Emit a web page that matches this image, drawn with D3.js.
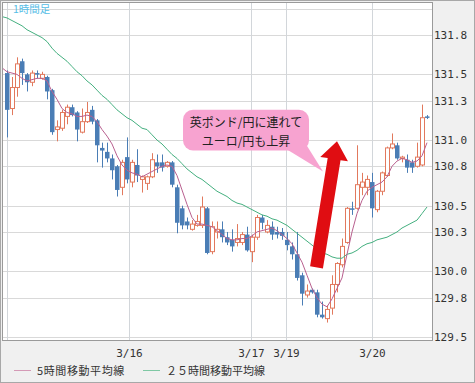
<!DOCTYPE html>
<html><head><meta charset="utf-8">
<script src="https://cdn.jsdelivr.net/npm/d3@7"></script>
<style>body{margin:0;background:#fff;} svg{display:block;}</style>
</head><body>
<svg id="c" width="475" height="383"></svg>
<script>
// ---- data (EUR/JPY hourly candles) ----
const opens = [
131.51,131.24,131.40,131.60,131.50,131.44,131.51,131.47,131.48,131.38,
131.08,131.09,131.18,131.25,131.21,131.06,131.14,131.23,131.15,130.94,
130.91,130.86,130.80,130.64,130.87,130.68,130.81,130.70,130.67,130.72,
130.83,130.83,130.80,130.83,130.64,130.48,130.38,130.32,130.35,130.35,
130.48,130.15,130.30,130.32,130.26,130.24,130.22,130.22,130.28,130.15,
130.26,130.41,130.30,130.34,130.30,130.30,130.24,130.19,130.13,129.97,
129.82,129.86,129.84,129.67,129.64,129.72,129.90,130.05,130.22,130.48,
130.48,130.64,130.64,130.68,130.47,130.61,130.73,130.94,130.96,130.86,
130.85,130.83,130.80,130.81,131.18];
const closes = [
131.23,131.40,131.58,131.51,131.44,131.51,131.50,131.50,131.37,131.06,
131.10,131.21,131.25,131.19,131.08,131.14,131.21,131.14,130.96,130.92,
130.86,130.77,130.62,130.83,130.70,130.83,130.73,130.72,130.72,130.85,
130.80,130.79,130.83,130.66,130.37,130.35,130.35,130.36,130.38,130.49,
130.14,130.34,130.32,130.26,130.22,130.19,130.25,130.28,130.16,130.26,
130.41,130.37,130.35,130.28,130.28,130.27,130.20,130.13,129.95,129.83,
129.85,129.84,129.67,129.65,129.71,129.90,130.06,130.19,130.48,130.47,
130.66,130.68,130.70,130.48,130.61,130.75,130.94,130.97,130.86,130.87,
130.79,130.79,130.87,131.17,131.17];
const highs = [
131.53,131.48,131.63,131.62,131.51,131.53,131.53,131.52,131.49,131.39,
131.15,131.23,131.27,131.27,131.22,131.24,131.29,131.26,131.16,130.98,
130.98,130.89,130.81,130.85,131.02,130.85,130.93,130.73,130.73,130.90,
130.89,130.89,130.84,130.84,130.66,130.50,130.41,130.39,130.43,130.57,
130.49,130.38,130.38,130.38,130.30,130.32,130.36,130.30,130.34,130.28,
130.43,130.43,130.39,130.38,130.34,130.33,130.30,130.22,130.30,129.99,
129.90,129.87,129.86,129.77,129.74,129.97,130.07,130.25,130.49,130.53,
130.96,130.75,130.73,130.75,130.62,130.76,130.95,131.05,130.98,130.88,
130.89,130.85,130.98,131.27,131.19];
const lows = [
131.02,131.19,131.33,131.42,131.37,131.41,131.47,131.46,131.31,131.04,
130.99,131.07,131.12,131.18,130.99,131.05,131.13,131.12,130.83,130.79,
130.83,130.70,130.57,130.58,130.67,130.64,130.68,130.60,130.62,130.71,
130.75,130.76,130.79,130.64,130.29,130.32,130.32,130.31,130.34,130.33,
130.13,130.13,130.25,130.22,130.20,130.15,130.19,130.20,130.15,130.07,
130.24,130.32,130.29,130.24,130.25,130.24,130.16,130.09,129.93,129.74,
129.80,129.83,129.65,129.64,129.61,129.67,129.84,130.03,130.21,130.43,
130.47,130.58,130.58,130.41,130.45,130.58,130.72,130.93,130.85,130.83,
130.75,130.75,130.79,130.80,131.16];
// moving averages, first value belongs to the candle just before the first visible one
const ma5 = [
131.55,131.52,131.51,131.50,131.47,131.45,131.46,131.47,131.47,131.45,
131.37,131.31,131.24,131.21,131.20,131.18,131.18,131.19,131.18,131.14,
131.08,131.03,130.97,130.88,130.81,130.77,130.75,130.74,130.72,130.74,
130.76,130.78,130.80,130.81,130.80,130.73,130.62,130.51,130.41,130.36,
130.36,130.35,130.34,130.31,130.28,130.25,130.24,130.24,130.25,130.25,
130.27,130.30,130.31,130.32,130.33,130.31,130.28,130.25,130.21,130.14,
130.07,129.97,129.87,129.80,129.75,129.73,129.79,129.87,129.95,130.13,
130.30,130.44,130.54,130.61,130.64,130.66,130.68,130.72,130.80,130.84,
130.86,130.85,130.83,130.84,130.88,130.98];
const ma25 = [
131.94,131.93,131.91,131.89,131.87,131.84,131.82,131.80,131.78,131.75,
131.70,131.66,131.63,131.60,131.56,131.52,131.49,131.45,131.42,131.38,
131.34,131.31,131.27,131.23,131.20,131.17,131.15,131.12,131.09,131.08,
131.04,131.00,130.97,130.93,130.89,130.86,130.82,130.78,130.75,130.72,
130.70,130.67,130.64,130.61,130.59,130.57,130.54,130.52,130.51,130.49,
130.47,130.45,130.43,130.42,130.40,130.39,130.37,130.35,130.32,130.29,
130.26,130.23,130.20,130.17,130.14,130.13,130.11,130.10,130.10,130.13,
130.14,130.16,130.19,130.21,130.22,130.24,130.25,130.26,130.28,130.30,
130.33,130.35,130.37,130.39,130.44,130.49];
const yGridValues = [132.0,131.8,131.5,131.3,131.0,130.8,130.5,130.3,130.0,129.8,129.5];
const yLabelValues = [131.8,131.5,131.3,131.0,130.8,130.5,130.3,130.0,129.8,129.5];
const dateTickIdx = [0, 24.4, 48.8, 55.8, 73];
const dateTickLabels = ['', '3/16', '3/17', '3/19', '3/20'];
const legendLabels = ['5時間移動平均線', '２５時間移動平均線'];
const chartTitle = '1時間足';
const noteLines = ['英ポンド/円に連れて', 'ユーロ/円も上昇'];
// annotation anchors in data space (candle index, price)
const noteBox = {i0: 35.2, i1: 60.4, v0: 131.23, v1: 130.92};
const noteTail = {i: 63.2, v: 130.76};
const arrowFrom = {i: 61.9, v: 130.03};
const arrowTo = {i: 66.0, v: 130.99};

// ---- drawing ----
const W = 475, H = 383;
const plot = {l: 2, t: 2, r: 432, b: 340};
const UP = '#e2795d', DOWN = '#4a7db5';
const x = d3.scaleLinear().domain([-1, 84]).range([2, 427]);
const y = d3.scaleLinear().domain([129.5, 131.8]).range([337, 35]);
const svg = d3.select('#c');
const mono = '"DejaVu Sans Mono", "Liberation Mono", monospace';
const jp = '"Noto Sans CJK JP", "Noto Sans", sans-serif';

svg.append('rect').attr('x', 0.5).attr('y', 0.5).attr('width', W - 1).attr('height', H - 1)
  .attr('fill', '#f0f0f0').attr('stroke', '#a8a8a8');
svg.append('rect').attr('x', plot.l).attr('y', plot.t).attr('width', plot.r - plot.l)
  .attr('height', plot.b - plot.t).attr('fill', '#fff');

svg.append('defs').append('clipPath').attr('id', 'clip').append('rect')
  .attr('x', plot.l).attr('y', plot.t).attr('width', plot.r - plot.l).attr('height', plot.b - plot.t);

// grid
svg.append('g').selectAll('line').data(yGridValues).join('line')
  .attr('x1', plot.l).attr('x2', plot.r)
  .attr('y1', d => Math.round(y(d)) + 0.5).attr('y2', d => Math.round(y(d)) + 0.5)
  .attr('stroke', '#d9d9d9');
svg.append('g').selectAll('line').data(dateTickIdx).join('line')
  .attr('x1', d => Math.round(x(d)) + 0.5).attr('x2', d => Math.round(x(d)) + 0.5)
  .attr('y1', plot.t).attr('y2', plot.b)
  .attr('stroke', '#d2d6da');

// candles
const idx = d3.range(opens.length);
const cg = svg.append('g').attr('clip-path', 'url(#clip)');
const cx = i => Math.round(x(i)) + 0.5;
cg.selectAll('line.w').data(idx).join('line').attr('class', 'w')
  .attr('x1', cx).attr('x2', cx)
  .attr('y1', i => y(highs[i])).attr('y2', i => y(lows[i]))
  .attr('stroke', i => closes[i] >= opens[i] ? UP : DOWN).attr('stroke-width', 1);
cg.selectAll('rect.b').data(idx).join('rect').attr('class', 'b')
  .each(function(i) {
    const up = closes[i] >= opens[i];
    const top = y(Math.max(opens[i], closes[i]));
    const bot = y(Math.min(opens[i], closes[i]));
    const h = Math.max(1, bot - top);
    const s = d3.select(this);
    if (up) {
      s.attr('x', cx(i) - 2).attr('y', top).attr('width', 4).attr('height', h)
        .attr('fill', '#fff').attr('stroke', UP).attr('stroke-width', 1);
    } else {
      s.attr('x', cx(i) - 2.5).attr('y', top).attr('width', 4.5).attr('height', Math.max(1.5, h))
        .attr('fill', DOWN);
    }
  });

// moving averages
const line = d3.line().x((d, i) => x(i - 1)).y(d => y(d));
cg.append('path').datum(ma25).attr('d', line).attr('fill', 'none')
  .attr('stroke', '#45b080').attr('stroke-width', 1);
cg.append('path').datum(ma5).attr('d', line).attr('fill', 'none')
  .attr('stroke', '#b9608f').attr('stroke-width', 1);

// plot border
svg.append('rect').attr('x', plot.l + 0.5).attr('y', plot.t + 0.5)
  .attr('width', plot.r - plot.l).attr('height', plot.b - plot.t)
  .attr('fill', 'none').attr('stroke', '#9a9a9a');

// axes
const ay = svg.append('g').attr('transform', `translate(${plot.r},0)`)
  .call(d3.axisRight(y).tickValues(yLabelValues).tickSize(0).tickPadding(2).tickFormat(d3.format('.1f')));
ay.select('.domain').remove();
ay.selectAll('text').attr('font-family', mono).attr('font-size', 11).attr('fill', '#333');

const ax = svg.append('g').attr('transform', `translate(0,${plot.b})`)
  .call(d3.axisBottom(x).tickValues(dateTickIdx).tickSize(0).tickPadding(9)
    .tickFormat((d, i) => dateTickLabels[i]));
ax.select('.domain').remove();
ax.selectAll('text').attr('font-family', mono).attr('font-size', 11).attr('fill', '#333');

// title
svg.append('text').attr('x', 13).attr('y', 13).text(chartTitle)
  .attr('font-family', jp).attr('font-size', 10.5).attr('fill', '#56bde6');

// annotation bubble
const bx0 = x(noteBox.i0), bx1 = x(noteBox.i1), by0 = y(noteBox.v0), by1 = y(noteBox.v1);
const ann = svg.append('g');
ann.append('path')
  .attr('d', `M${bx1 - 22},${by1 - 1} L${bx1 - 6},${by1 - 11} L${x(noteTail.i)},${y(noteTail.v)} Z`)
  .attr('fill', '#f7a3d0');
ann.append('rect').attr('x', bx0).attr('y', by0).attr('width', bx1 - bx0).attr('height', by1 - by0)
  .attr('rx', 10).attr('fill', '#f7a3d0');
ann.selectAll('text').data(noteLines).join('text')
  .attr('x', (bx0 + bx1) / 2).attr('y', (d, i) => by0 + 17 + i * 19.5)
  .attr('text-anchor', 'middle').attr('font-family', jp).attr('font-size', 12).attr('fill', '#222')
  .text(d => d);

// red arrow
const ax0 = x(arrowFrom.i), ay0 = y(arrowFrom.v), ax1 = x(arrowTo.i), ay1 = y(arrowTo.v);
const len = Math.hypot(ax1 - ax0, ay1 - ay0);
const ux = (ax1 - ax0) / len, uy = (ay1 - ay0) / len, px = -uy, py = ux;
const sw = 6.5, hw = 14, hl = 18;
const hbx = ax1 - ux * hl, hby = ay1 - uy * hl;
const pts = [
  [ax0 + px * sw, ay0 + py * sw], [hbx + px * sw, hby + py * sw], [hbx + px * hw, hby + py * hw],
  [ax1, ay1], [hbx - px * hw, hby - py * hw], [hbx - px * sw, hby - py * sw], [ax0 - px * sw, ay0 - py * sw]];
svg.append('polygon').attr('points', pts.map(p => p.join(',')).join(' ')).attr('fill', '#e00d12');

// legend
const lg = svg.append('g');
const legendX = [14, 143];
const legendColors = ['#d49ab6', '#7fc8a4'];
legendLabels.forEach((t, i) => {
  lg.append('line').attr('x1', legendX[i]).attr('x2', legendX[i] + 17).attr('y1', 370.5).attr('y2', 370.5)
    .attr('stroke', legendColors[i]).attr('stroke-width', 1);
  lg.append('text').attr('x', legendX[i] + 23).attr('y', 375).text(t)
    .attr('font-family', jp).attr('font-size', 11).attr('letter-spacing', i === 0 ? 0.6 : 0).attr('fill', '#333');
});
</script>
</body></html>
